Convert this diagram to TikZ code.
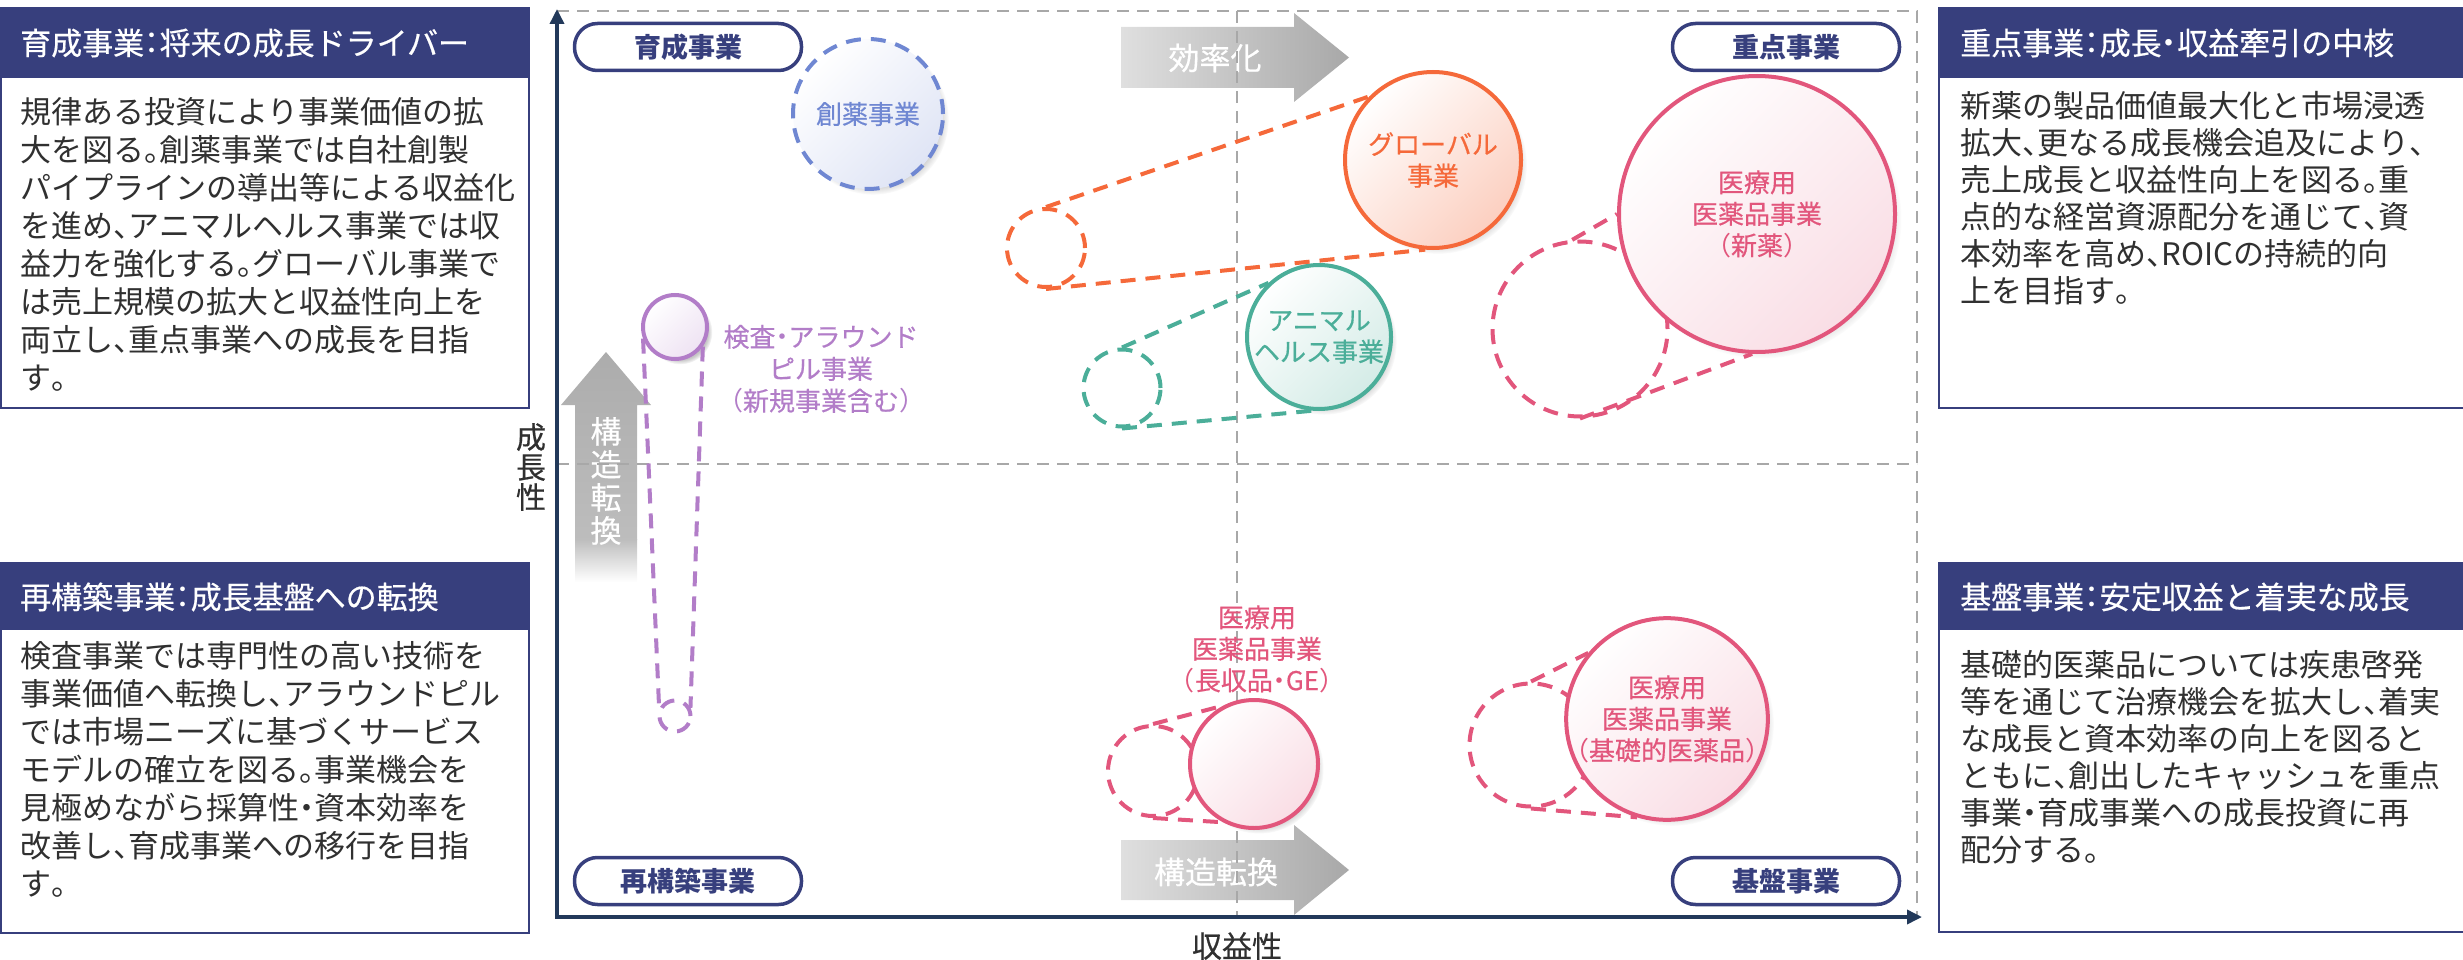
\documentclass[tikz,border=0pt]{standalone}
\usepackage{fontspec}
\setmainfont{Noto Sans CJK JP}
\newfontface\halfpunct[RawFeature=+halt]{Noto Sans CJK JP}
\newfontface\medfont[FakeBold=0.5]{Noto Sans CJK JP}
\newcommand{\hpt}[1]{{\halfpunct#1}}
\usetikzlibrary{arrows.meta,shadows}

\definecolor{hdnavy}{HTML}{373F7D}
\definecolor{axisnavy}{HTML}{22395A}
\definecolor{framegray}{HTML}{A8A8A8}
\definecolor{bodygray}{HTML}{303030}
\definecolor{bizblue}{HTML}{6F87D2}
\definecolor{bizorange}{HTML}{F5693A}
\definecolor{bizteal}{HTML}{4BAE99}
\definecolor{bizpink}{HTML}{E2567C}
\definecolor{bizpurple}{HTML}{B27DC8}

\begin{document}
\begin{tikzpicture}[x=1pt, y=-1pt, >={Triangle[length=15pt,width=14pt]},
	every node/.style={inner sep=0pt},
	headtext/.style={text=white, anchor=west, font=\fontsize{31}{36}\selectfont\medfont},
	bodytext/.style={text=bodygray, anchor=north west, align=left, font=\fontsize{31}{38}\selectfont},
	quadtag/.style={draw=hdnavy, line width=3.5pt, fill=white, rounded corners=23pt, minimum width=227pt, minimum height=47pt, text=hdnavy, font=\fontsize{27}{30}\selectfont\bfseries},
	bubble/.style={circle, line width=4pt, align=center, font=\fontsize{26}{31.5}\selectfont\medfont, circular drop shadow={shadow xshift=5pt, shadow yshift=-5pt, shadow scale=1.01, opacity=0.45}},
	ghost/.style={circle, line width=4pt, dash pattern=on 15pt off 10pt},
	trail/.style={line width=4pt, dash pattern=on 15pt off 10pt},
	quadline/.style={framegray, line width=2.5pt, dash pattern=on 12pt off 8pt},
	movetext/.style={text=white, font=\fontsize{31}{33}\selectfont\medfont}]
	\useasboundingbox (0,0) rectangle (2463,960);
	\fill[hdnavy] (0,8) rectangle (529,78);
	\draw[hdnavy, line width=2pt] (1,8) rectangle (529,408);
	\node[headtext] (growHead) at (20,43) {育成事業\hpt{：}将来の成長ドライバー};
	\node[bodytext] (growBody) at (20,97) {規律ある投資により事業価値の拡\\大を図る\hpt{。}創薬事業では自社創製\\パイプラインの導出等による収益化\\を進め\hpt{、}アニマルヘルス事業では収\\益力を強化する\hpt{。}グローバル事業で\\は売上規模の拡大と収益性向上を\\両立し\hpt{、}重点事業への成長を目指\\す\hpt{。}};
	\fill[hdnavy] (0,563) rectangle (529,630);
	\draw[hdnavy, line width=2pt] (1,563) rectangle (529,933);
	\node[headtext] (rebuildHead) at (20,597) {再構築事業\hpt{：}成長基盤への転換};
	\node[bodytext] (rebuildBody) at (20,641) {検査事業では専門性の高い技術を\\事業価値へ転換し\hpt{、}アラウンドピル\\では市場ニーズに基づくサービス\\モデルの確立を図る\hpt{。}事業機会を\\見極めながら採算性\hpt{・}資本効率を\\改善し\hpt{、}育成事業への移行を目指\\す\hpt{。}};
	\fill[hdnavy] (1939,8) rectangle (2466,78);
	\draw[hdnavy, line width=2pt] (1939,8) rectangle (2466,408);
	\node[headtext] (coreHead) at (1960,43) {重点事業\hpt{：}成長\hpt{・}収益牽引の中核};
	\node[bodytext, font=\fontsize{31}{37}\selectfont] (coreBody) at (1960,91) {新薬の製品価値最大化と市場浸透\\拡大\hpt{、}更なる成長機会追及により\hpt{、}\\売上成長と収益性向上を図る\hpt{。}重\\点的な経営資源配分を通じて\hpt{、}資\\本効率を高め\hpt{、}ROICの持続的向\\上を目指す\hpt{。}};
	\fill[hdnavy] (1939,563) rectangle (2466,630);
	\draw[hdnavy, line width=2pt] (1939,563) rectangle (2466,932);
	\node[headtext] (baseHead) at (1960,597) {基盤事業\hpt{：}安定収益と着実な成長};
	\node[bodytext, font=\fontsize{31}{37}\selectfont] (baseBody) at (1960,650) {基礎的医薬品については疾患啓発\\等を通じて治療機会を拡大し\hpt{、}着実\\な成長と資本効率の向上を図ると\\ともに\hpt{、}創出したキャッシュを重点\\事業\hpt{・}育成事業への成長投資に再\\配分する\hpt{。}};
	\shade[left color=gray!25, right color=gray!68] (1121,27) -- (1294,27) -- (1294,13) -- (1349,57.5) -- (1294,102) -- (1294,88) -- (1121,88) -- cycle;
	\node[movetext] (effLbl) at (1215,58) {効率化};
	\shade[left color=gray!25, right color=gray!68] (1121,840) -- (1294,840) -- (1294,825) -- (1349,870) -- (1294,915) -- (1294,900) -- (1121,900) -- cycle;
	\node[movetext] (shiftLbl) at (1216,872) {構造転換};
	\shade[top color=gray!65, bottom color=gray!52] (575,540) -- (575,405) -- (561,405) -- (606,352) -- (651,405) -- (637,405) -- (637,540) -- cycle;
	\shade[top color=gray!52, bottom color=white] (575,539) rectangle (637,582);
	\node[movetext, align=center] (reformLbl) at (606,481) {構\\造\\転\\換};
	\draw[quadline] (557,11) -- (1917,11) -- (1917,917);
	\draw[quadline] (1237,11) -- (1237,917);
	\draw[quadline] (557,464) -- (1917,464);
	\coordinate (origin) at (557,917);
	\coordinate (yTop) at (557,9);
	\coordinate (xEnd) at (1922,917);
	\draw[<->, axisnavy, line width=3.5pt] (yTop) -- (origin) -- (xEnd);
	\node[text=bodygray, align=center, font=\fontsize{30}{30}\selectfont\medfont] (growthAxis) at (531,467) {成\\長\\性};
	\node[text=bodygray, font=\fontsize{30}{30}\selectfont\medfont] (profitAxis) at (1237,946) {収益性};
	\node[quadtag] (growTag) at (688,47) {育成事業};
	\node[quadtag] (coreTag) at (1786,47) {重点事業};
	\node[quadtag] (rebuildTag) at (688,881) {再構築事業};
	\node[quadtag] (baseTag) at (1786,881) {基盤事業};
	\node[ghost, draw=bizorange, minimum size=78pt] (gGlobal) at (1046,248) {};
	\node[ghost, draw=bizteal, minimum size=77pt] (gAnimal) at (1122,388) {};
	\node[ghost, draw=bizpink, minimum size=175pt] (gShinyaku) at (1580,329) {};
	\node[ghost, draw=bizpink, minimum size=90pt] (gChoushu) at (1153,771) {};
	\node[ghost, draw=bizpink, minimum size=123pt] (gKiso) at (1531,745) {};
	\node[ghost, draw=bizpurple, minimum size=31pt] (gKensa) at (675,716) {};
	\node[bubble, draw=bizblue, dash pattern=on 15pt off 10pt, top color=white, bottom color=bizblue!22, shading angle=45, text=bizblue, minimum size=150pt] (souyaku) at (868,114) {創薬事業};
	\node[bubble, draw=bizpurple, top color=white, bottom color=bizpurple!22, shading angle=45, minimum size=64pt] (kensa) at (675,327) {};
	\node[text=bizpurple, align=center, font=\fontsize{26}{32}\selectfont\medfont] (kensaLbl) at (821,369) {検査\hpt{・}アラウンド\\ピル事業\\\hpt{（}新規事業含む\hpt{）}};
	\node[bubble, draw=bizorange, top color=white, bottom color=bizorange!32, shading angle=45, text=bizorange, minimum size=176pt] (global) at (1433,160) {グローバル\\事業};
	\node[bubble, draw=bizteal, top color=white, bottom color=bizteal!24, shading angle=45, text=bizteal, minimum size=144pt] (animal) at (1319,337) {アニマル\\ヘルス事業};
	\node[bubble, draw=bizpink, top color=white, bottom color=bizpink!20, shading angle=45, text=bizpink, minimum size=276pt] (shinyaku) at (1757,214) {医療用\\医薬品事業\\\hpt{（}新薬\hpt{）}};
	\node[bubble, draw=bizpink, top color=white, bottom color=bizpink!20, shading angle=45, minimum size=128pt] (choushu) at (1254,764) {};
	\node[text=bizpink, align=center, font=\fontsize{26}{31.5}\selectfont\medfont] (choushuLbl) at (1257,649) {医療用\\医薬品事業\\\hpt{（}長収品\hpt{・}GE\hpt{）}};
	\node[bubble, draw=bizpink, top color=white, bottom color=bizpink!20, shading angle=45, text=bizpink, minimum size=194pt] (kiso) at (1667,719) {医療用\\医薬品事業\\\hpt{（}基礎的医薬品\hpt{）}};
	\draw[trail, bizorange] (gGlobal.north) -- (global.135);
	\draw[trail, bizorange] (gGlobal.south) -- (global.265);
	\draw[trail, bizteal] (gAnimal.north) -- (animal.133);
	\draw[trail, bizteal] (gAnimal.south) -- (animal.265);
	\draw[trail, bizpink] (gShinyaku.95) -- (shinyaku.180);
	\draw[trail, bizpink] (gShinyaku.south) -- (shinyaku.268);
	\draw[trail, bizpink] (gChoushu.north) -- (choushu.118);
	\draw[trail, bizpink] (gChoushu.south) -- (choushu.242);
	\draw[trail, bizpink] (gKiso.north) -- (kiso.140);
	\draw[trail, bizpink] (gKiso.south) -- (kiso.253);
	\draw[trail, bizpurple] (kensa.200) -- (gKensa.155);
	\draw[trail, bizpurple] (kensa.325) -- (gKensa.28);
\end{tikzpicture}
\end{document}
